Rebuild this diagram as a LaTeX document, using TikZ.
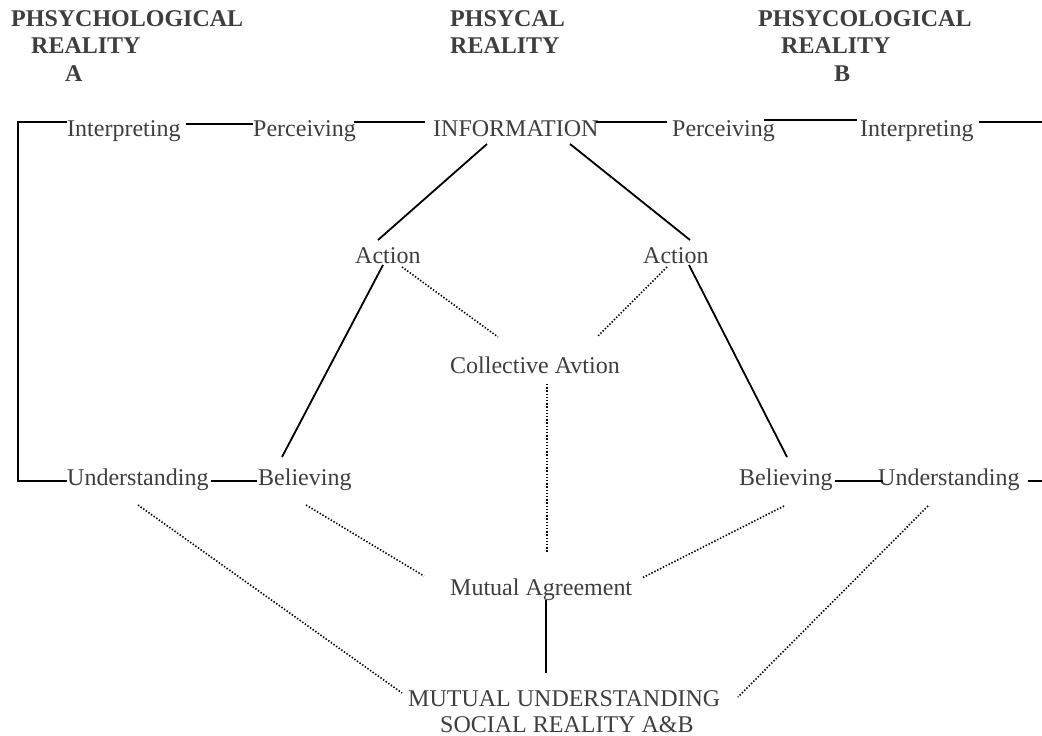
\documentclass[tikz,border=0pt]{standalone}
\usepackage{fontspec}
\setmainfont{Liberation Serif}
\definecolor{txt}{RGB}{62,62,62}
\tikzset{
  lbl/.style={anchor=base west, inner sep=0pt, text=txt, font=\fontsize{24}{28}\selectfont},
  head/.style={lbl, font=\fontsize{24}{28}\selectfont\bfseries},
  solidline/.style={draw=black, line width=1.8pt},
  dotline/.style={draw=black, line width=1.6pt, dash pattern=on 1.4pt off 1.8pt},
}
\begin{document}
\begin{tikzpicture}[x=1pt,y=-1pt]
\fill[white] (0,0) rectangle (1042,736);
\useasboundingbox (0,0) rectangle (1042,736);

% headings
\node[head] (hA1) at (11,26) {PHSYCHOLOGICAL};
\node[head] (hA2) at (31,53) {REALITY};
\node[head] (hA3) at (65,81) {A};
\node[head] (hP1) at (450,26) {PHSYCAL};
\node[head] (hP2) at (450,53) {REALITY};
\node[head] (hB1) at (758,26) {PHSYCOLOGICAL};
\node[head] (hB2) at (781,53) {REALITY};
\node[head] (hB3) at (834,81) {B};

% row 1
\node[lbl] (interpA) at (67,136) {Interpreting};
\node[lbl] (percA) at (253,136) {Perceiving};
\node[lbl] (info) at (433,136) {INFORMATION};
\node[lbl] (percB) at (672,136) {Perceiving};
\node[lbl] (interpB) at (860,136) {Interpreting};

% actions
\node[lbl] (actL) at (355,263) {Action};
\node[lbl] (actR) at (643,263) {Action};
\node[lbl] (coll) at (450,373) {Collective Avtion};

% row 4
\node[lbl] (underA) at (67,485) {Understanding};
\node[lbl] (belA) at (258,485) {Believing};
\node[lbl] (belB) at (739,485) {Believing};
\node[lbl] (underB) at (878,485) {Understanding};

% bottom
\node[lbl] (mutual) at (450,595) {Mutual Agreement};
\node[lbl] (mu1) at (408,706) {MUTUAL UNDERSTANDING};
\node[lbl] (mu2) at (440,732) {SOCIAL REALITY A\&B};

\coordinate (rEdge1) at (1042,122);
\coordinate (rEdge2) at (1042,481);

% solid connectors, row 1
\draw[solidline] ([shift={(0,-14)}]interpA.base west) -- ++(-49,0) |- ([shift={(0,-4)}]underA.base west);
\draw[solidline] ([shift={(5,-12)}]interpA.base east) -- ([shift={(0,-12)}]percA.base west);
\draw[solidline] ([shift={(-2,-14)}]percA.base east) -- ([shift={(-8,-14)}]info.base west);
\draw[solidline] ([shift={(-3,-14)}]info.base east) -- ([shift={(-5,-14)}]percB.base west);
\draw[solidline] ([shift={(-11,-16)}]percB.base east) -- ([shift={(-3,-16)}]interpB.base west);
\draw[solidline] ([shift={(5,-14)}]interpB.base east) -- (rEdge1);

% solid connectors, row 4
\draw[solidline] ([shift={(2,-4)}]underA.base east) -- ([shift={(-1,-4)}]belA.base west);
\draw[solidline] ([shift={(2,-4)}]belB.base east) -- ([shift={(5,-4)}]underB.base west);
\draw[solidline] ([shift={(8,-4)}]underB.base east) -- (rEdge2);

% solid diagonals
\draw[solidline] ([shift={(54,8)}]info.base west) -- ([shift={(23,-23)}]actL.base west);
\draw[solidline] ([shift={(137,8)}]info.base west) -- ([shift={(47,-23)}]actR.base west);
\draw[solidline] ([shift={(28,2)}]actL.base west) -- ([shift={(24,-28)}]belA.base west);
\draw[solidline] ([shift={(46,2)}]actR.base west) -- ([shift={(48,-28)}]belB.base west);
\draw[solidline] ([shift={(96,5)}]mutual.base west) -- ([shift={(138,-33)}]mu1.base west);

% dotted connectors
\draw[dotline] ([shift={(47,4)}]actL.base west) -- ([shift={(48,-36)}]coll.base west);
\draw[dotline] ([shift={(24,4)}]actR.base west) -- ([shift={(147,-36)}]coll.base west);
\draw[dotline] ([shift={(97,11)}]coll.base west) -- ([shift={(97,-42)}]mutual.base west);
\draw[dotline] ([shift={(71,20)}]underA.base west) -- ([shift={(-6,-13)}]mu1.base west);
\draw[dotline] ([shift={(48,20)}]belA.base west) -- ([shift={(-26,-19)}]mutual.base west);
\draw[dotline] ([shift={(45,21)}]belB.base west) -- ([shift={(192,-17)}]mutual.base west);
\draw[dotline] ([shift={(50,21)}]underB.base west) -- ([shift={(330,-9)}]mu1.base west);
\end{tikzpicture}
\end{document}
